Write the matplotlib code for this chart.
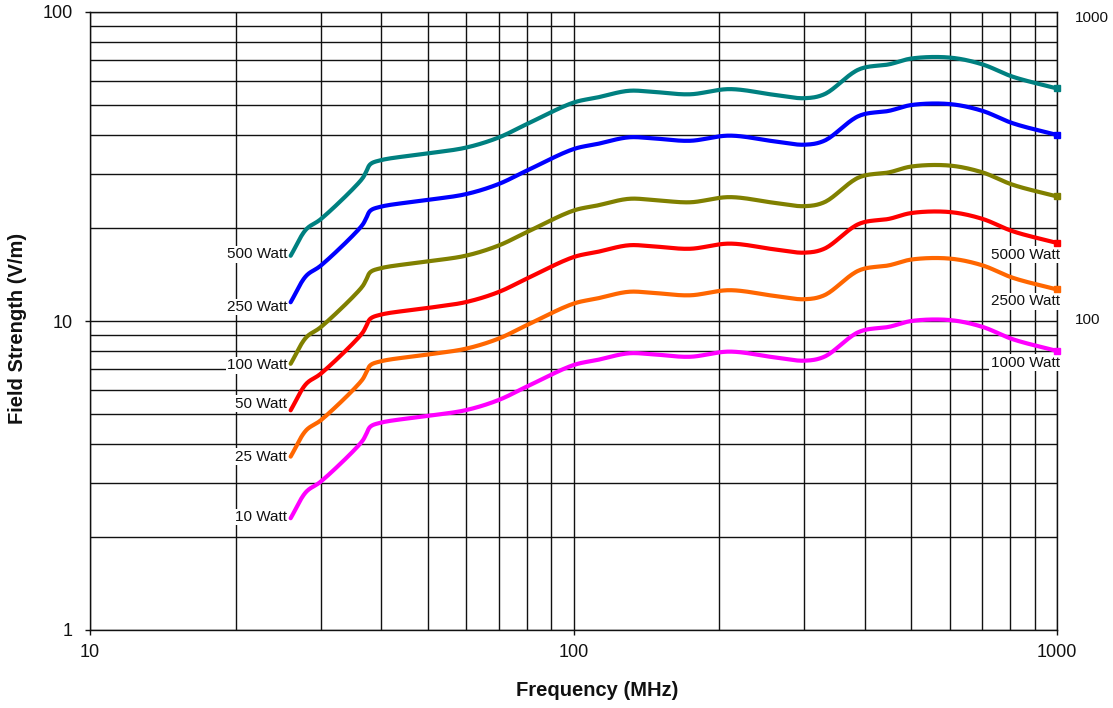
import numpy as np
import matplotlib
matplotlib.use("Agg")
import matplotlib.pyplot as plt

plt.rcParams['font.family'] = ['Liberation Sans', 'DejaVu Sans']

# ---------------- data ----------------
freq_mhz = [26, 28, 30, 36.5, 37.2, 38, 40, 50, 60, 70, 80, 100, 112, 130, 146,
            174, 210, 260, 300, 330, 390, 450, 500, 600, 700, 810, 1000]

field_10w = [2.30, 2.80, 3.02, 4.07, 4.28, 4.55, 4.69, 4.93, 5.15, 5.55, 6.13, 7.20,
             7.48, 7.86, 7.80, 7.66, 7.96, 7.63, 7.44, 7.66, 9.23, 9.58, 10.0, 10.07,
             9.58, 8.73, 8.0]
field_25w = [3.64, 4.43, 4.77, 6.43, 6.77, 7.19, 7.41, 7.79, 8.14, 8.77, 9.69, 11.38,
             11.83, 12.43, 12.33, 12.11, 12.58, 12.06, 11.76, 12.11, 14.59, 15.15,
             15.81, 15.92, 15.15, 13.80, 12.65]
field_50w = [5.14, 6.26, 6.75, 9.10, 9.57, 10.17, 10.49, 11.02, 11.52, 12.41, 13.71,
             16.10, 16.73, 17.58, 17.44, 17.13, 17.80, 17.06, 16.64, 17.13, 20.64,
             21.42, 22.36, 22.52, 21.42, 19.52, 17.89]
field_100w = [7.27, 8.85, 9.55, 12.87, 13.53, 14.39, 14.83, 15.59, 16.28, 17.55, 19.38,
              22.77, 23.65, 24.85, 24.66, 24.22, 25.17, 24.13, 23.53, 24.22, 29.19,
              30.29, 31.62, 31.84, 30.29, 27.60, 25.30]
field_250w = [11.5, 14.0, 15.1, 20.35, 21.4, 22.75, 23.45, 24.65, 25.75, 27.75, 30.65,
              36.0, 37.4, 39.3, 39.0, 38.3, 39.8, 38.15, 37.2, 38.3, 46.15, 47.9, 50.0,
              50.35, 47.9, 43.65, 40.0]
field_500w = [16.26, 19.80, 21.35, 28.78, 30.26, 32.17, 33.16, 34.86, 36.42, 39.24,
              43.35, 50.91, 52.89, 55.58, 55.15, 54.16, 56.29, 53.95, 52.61, 54.16,
              65.27, 67.74, 70.71, 71.20, 67.74, 61.73, 56.57]

left_labels = ["500 Watt", "250 Watt", "100 Watt", "50 Watt", "25 Watt", "10 Watt"]
right_labels = ["5000 Watt", "2500 Watt", "1000 Watt"]
right_axis_ticks = ["1000", "100"]

series = [field_500w, field_250w, field_100w, field_50w, field_25w, field_10w]
colors = ["#008080", "#0000FF", "#808000", "#FF0000", "#FF6600", "#FF00FF"]


# smooth drawing (centripetal Catmull-Rom in screen-like log space)
SX, SY = 483.5, 309.0


def smooth(xs, ys, n=20):
    P = np.column_stack([np.log10(xs) * SX, np.log10(ys) * SY])
    P = np.vstack([2 * P[0] - P[1], P, 2 * P[-1] - P[-2]])
    out = []
    for i in range(1, len(P) - 2):
        p0, p1, p2, p3 = P[i - 1:i + 3]
        t0 = 0.0
        t1 = t0 + np.linalg.norm(p1 - p0) ** 0.5
        t2 = t1 + np.linalg.norm(p2 - p1) ** 0.5
        t3 = t2 + np.linalg.norm(p3 - p2) ** 0.5
        t = np.linspace(t1, t2, n, endpoint=False)[:, None]
        A1 = (t1 - t) / (t1 - t0) * p0 + (t - t0) / (t1 - t0) * p1
        A2 = (t2 - t) / (t2 - t1) * p1 + (t - t1) / (t2 - t1) * p2
        A3 = (t3 - t) / (t3 - t2) * p2 + (t - t2) / (t3 - t2) * p3
        B1 = (t2 - t) / (t2 - t0) * A1 + (t - t0) / (t2 - t0) * A2
        B2 = (t3 - t) / (t3 - t1) * A2 + (t - t1) / (t3 - t1) * A3
        C = (t2 - t) / (t2 - t1) * B1 + (t - t1) / (t2 - t1) * B2
        out.append(C)
    out.append(P[-2][None])
    C = np.vstack(out)
    return 10 ** (C[:, 0] / SX), 10 ** (C[:, 1] / SY)


# ---------------- figure ----------------
W, H = 1113, 708
fig = plt.figure(figsize=(W / 100, H / 100), dpi=100)
ax = fig.add_axes([90 / W, 1 - 630 / H, (1057 - 90) / W, (630 - 12) / H])
ax.set_xscale('log')
ax.set_yscale('log')
ax.set_xlim(10, 1000)
ax.set_ylim(1, 100)

ax.grid(True, which='both', color='#111111', linewidth=1.0, zorder=1)
ax.set_axisbelow(True)
for s in ax.spines.values():
    s.set_color('#111111')
    s.set_linewidth(1.0)

ax.set_xticks([10, 100, 1000])
ax.set_xticklabels(['10', '100', '1000'])
ax.set_yticks([1, 10, 100])
ax.set_yticklabels(['1', '10', '100'])
ax.tick_params(which='major', direction='out', length=3.5, width=1.0,
               color='#111111', labelsize=13, labelcolor='#111111')
ax.tick_params(axis='x', pad=6.5)
ax.tick_params(axis='y', pad=9)
ax.tick_params(which='minor', length=0)

for vals, c in zip(series, colors):
    sx, sy = smooth(freq_mhz, vals)
    ax.plot(sx, sy, color=c, linewidth=3.0, solid_capstyle='round', zorder=4)
    ax.plot([freq_mhz[-1]], [vals[-1]], marker='s', markersize=4.5, color=c,
            clip_on=False, zorder=5, linestyle='none')

bbox = dict(facecolor='white', edgecolor='none', pad=1.0)
left_offsets = [1.01, 0.965, 0.99, 1.05, 1.0, 1.01]
for lab, vals, off in zip(left_labels, series, left_offsets):
    ax.text(25.6, vals[0] * off, lab, ha='right', va='center', fontsize=11,
            color='#111111', bbox=bbox, zorder=3)

right_series = [field_50w, field_25w, field_10w]
for lab, vals in zip(right_labels, right_series):
    ax.text(1012, vals[-1] * 0.915, lab, ha='right', va='center', fontsize=11,
            color='#111111', bbox=bbox, zorder=3)

ytr = ax.get_yaxis_transform()
ax.text(1.0186, 95.5, right_axis_ticks[0], transform=ytr, ha='left', va='center',
        fontsize=11, color='#111111')
ax.text(1.0186, 10.1, right_axis_ticks[1], transform=ytr, ha='left', va='center',
        fontsize=11, color='#111111')

fig.text(597 / W, 1 - 690 / H, 'Frequency (MHz)', ha='center', va='center',
         fontsize=14.5, fontweight='bold', color='#111111')
fig.text(18 / W, 1 - 328 / H, 'Field Strength (V/m)', ha='center', va='center',
         rotation=90, fontsize=14.5, fontweight='bold', color='#111111')

fig.savefig('out.png', dpi=100)
